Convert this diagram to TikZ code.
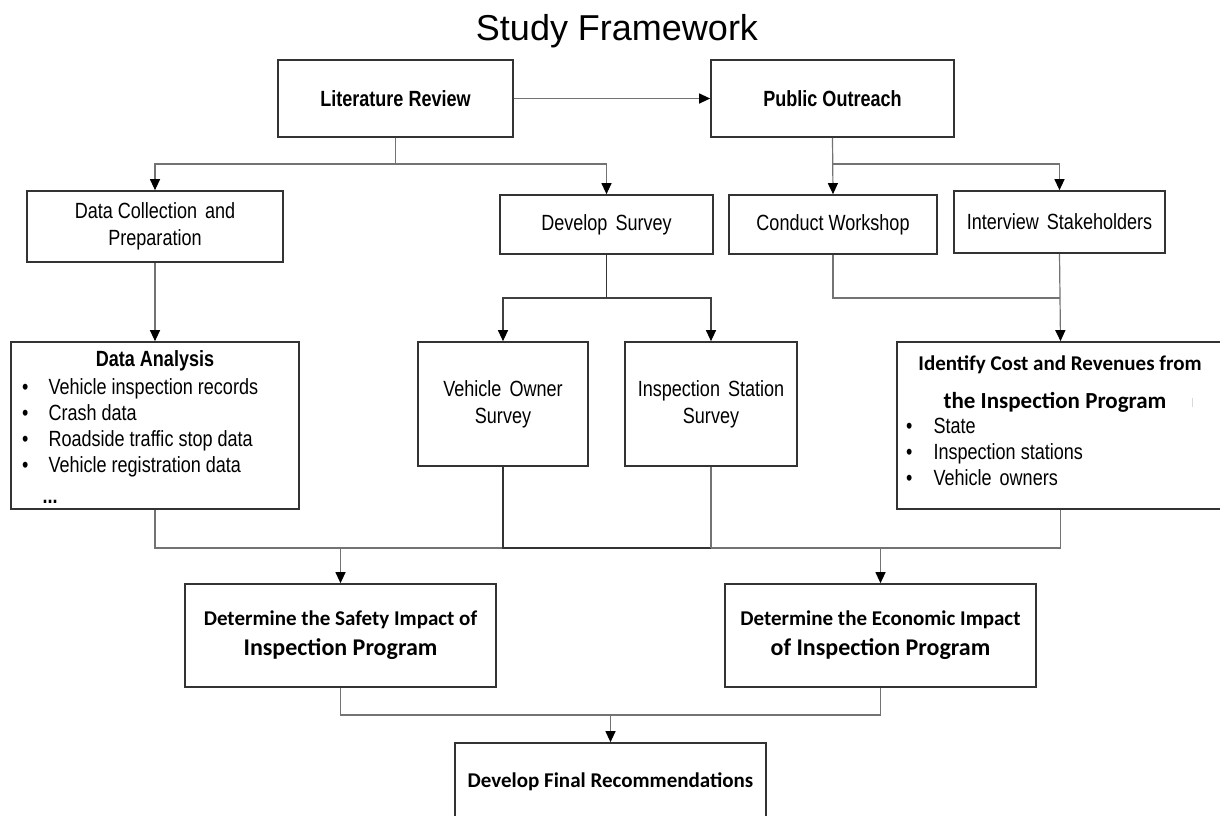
\documentclass[tikz,border=0pt]{standalone}
\usepackage{fontspec}
\setmainfont{Liberation Sans}
\newfontfamily\nar{Liberation Sans}[FakeStretch=0.82]
\newfontfamily\calf{Carlito}
\newcommand\wsp{\hspace{8pt}}
\usetikzlibrary{arrows.meta}
\begin{document}
\begin{tikzpicture}[x=1pt,y=-1pt,
  box/.style={draw=black!80,line width=1.7pt,inner sep=0pt,align=center,font=\nar\fontsize{22}{27}\selectfont},
  bbox/.style={box,font=\nar\bfseries\fontsize{22}{27}\selectfont},
  cbox/.style={box,font=\calf\bfseries\fontsize{21}{30}\selectfont},
  conn/.style={draw=black!55,line width=1.2pt},
  dconn/.style={draw=black!80,line width=1.4pt},
  arr/.style={conn,-{Triangle[length=11pt,width=10pt,color=black]}},
  txt/.style={inner sep=0pt,align=left,font=\nar\fontsize{22}{26}\selectfont}]
\useasboundingbox (0,0) rectangle (1220,815);

% title
\node[font=\fontsize{36}{40}\selectfont,anchor=base,inner sep=0pt] (title) at (617,40) {Study Framework};

% top row
\node[bbox,minimum width=235pt,minimum height=77pt] (lit) at (395.5,98.5) {Literature Review};
\node[bbox,minimum width=243pt,minimum height=77pt] (po) at (832.5,98.5) {Public Outreach};

% second row
\node[box,minimum width=256pt,minimum height=71pt] (dc) at (155,226.5) {Data Collection\wsp and\\Preparation};
\node[box,minimum width=213pt,minimum height=59pt] (ds) at (606.5,224.5) {Develop\wsp Survey};
\node[box,minimum width=208pt,minimum height=59pt] (cw) at (833,224.5) {Conduct Workshop};
\node[box,minimum width=211pt,minimum height=62pt] (is) at (1059.5,222) {Interview\wsp Stakeholders};

% third row
\node[box,minimum width=288pt,minimum height=167pt] (da) at (155,425.5) {};
\node[inner sep=0pt,font=\nar\bfseries\fontsize{22}{26}\selectfont] (dat) at (155,361) {Data Analysis};
\node[txt,anchor=north west] (dal) at (22,376) {\begin{tabular}{@{}l@{\hspace{20pt}}l@{}}
\textbullet & Vehicle inspection records\\
\textbullet & Crash data\\
\textbullet & Roadside traffic stop data\\
\textbullet & Vehicle registration data\\[5pt]
 & \hspace{-6pt}\textbf{...}
\end{tabular}};

\node[box,minimum width=170pt,minimum height=124pt] (vos) at (503,404) {Vehicle\wsp Owner\\Survey};
\node[box,minimum width=172pt,minimum height=124pt] (iss) at (711,404) {Inspection\wsp Station\\Survey};

\node[box,minimum width=327pt,minimum height=167pt] (id) at (1060.5,425.5) {};
\node[inner sep=0pt,font=\calf\bfseries\fontsize{21}{25}\selectfont] (idt1) at (1060,365) {Identify Cost and Revenues from};
\node[inner sep=0pt,font=\calf\bfseries\fontsize{23}{27}\selectfont] (idt2) at (1055,402) {the Inspection Program};
\node[txt,anchor=north west] (idl) at (906,415) {\begin{tabular}{@{}l@{\hspace{21pt}}l@{}}
\textbullet & State\\
\textbullet & Inspection stations\\
\textbullet & Vehicle\wsp owners
\end{tabular}};
\draw[draw=black!15,line width=0.8pt] (1192.5,398) -- (1192.5,407);

% fourth row
\node[cbox,minimum width=311pt,minimum height=103pt] (saf) at (340.5,635.5) {Determine the Safety Impact of\\{\fontsize{24}{30}\selectfont Inspection Program}};
\node[cbox,minimum width=311pt,minimum height=103pt] (eco) at (880.5,635.5) {Determine the Economic Impact\\{\fontsize{24}{30}\selectfont of Inspection Program}};

% final
\node[box,minimum width=311pt,minimum height=87pt] (fin) at (610.5,786.5) {};
\node[inner sep=0pt,font=\calf\bfseries\fontsize{21}{25}\selectfont] (fint) at (610.5,782) {Develop Final Recommendations};

% bus coordinates
\coordinate (b1) at (0,164);
\coordinate (b2) at (0,298);
\coordinate (b3) at (0,548);
\coordinate (b4) at (0,715);

% connectors
\draw[arr] (lit.east) -- (po.west);
\draw[arr] (lit.south) -- (lit.south |- b1) -| (dc.north);
\draw[arr] (lit.south |- b1) -| (ds.north);
\draw[arr] (po.south) -- (cw.north);
\draw[arr] (po.south |- b1) -| (is.north);

\draw[arr] (dc.south) -- (da.north);
\draw[dconn] (ds.south) -- (ds.south |- b2);
\draw[arr,draw=black!75] (ds.south |- b2) -| (vos.north);
\draw[arr,draw=black!75] (ds.south |- b2) -| (iss.north);
\draw[conn] (cw.south) |- (is.south |- b2);
\draw[arr] (is.south) -- (id.north);

\draw[conn] (da.south) -- (da.south |- b3) -- (id.south |- b3) -- (id.south);
\draw[dconn] (vos.south) -- (vos.south |- b3) -- (iss.south |- b3);
\draw[conn] (iss.south) -- (iss.south |- b3);
\draw[arr] (saf.north |- b3) -- (saf.north);
\draw[arr] (eco.north |- b3) -- (eco.north);

\draw[conn] (saf.south) -- (saf.south |- b4) -- (eco.south |- b4) -- (eco.south);
\draw[arr] (fin.north |- b4) -- (fin.north);
\end{tikzpicture}
\end{document}
